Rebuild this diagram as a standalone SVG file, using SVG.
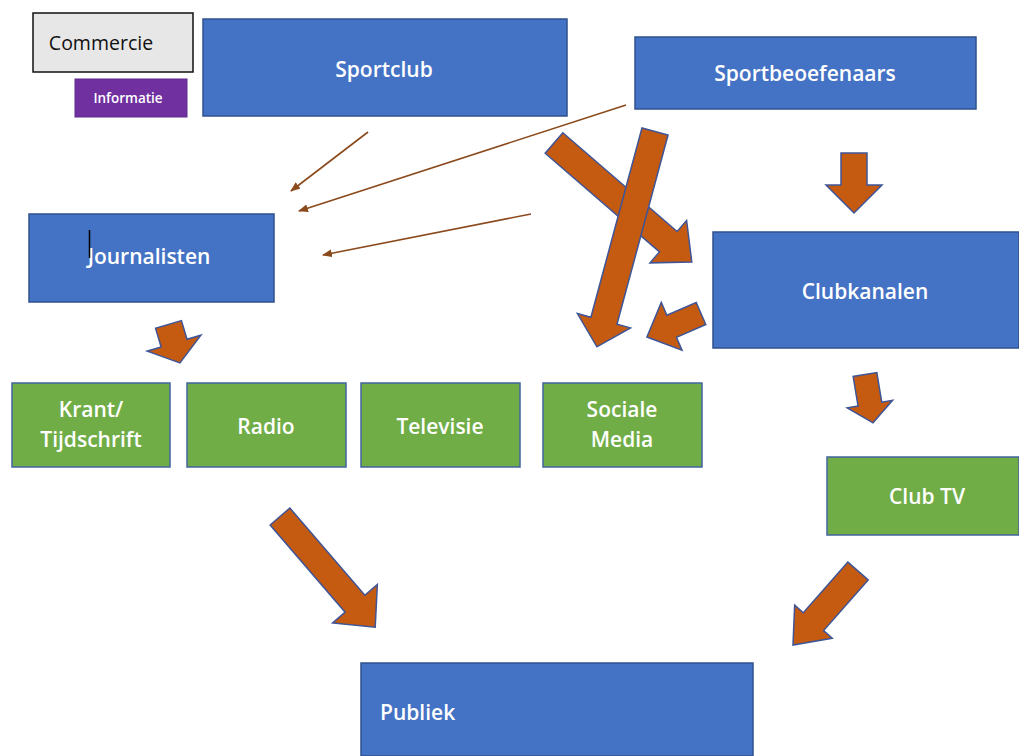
<svg xmlns="http://www.w3.org/2000/svg" width="1019" height="756" viewBox="0 0 1019 756">
<defs>
<style>
.box{fill:#4472c4;stroke:#2f528f;stroke-width:1.5}
.grn{fill:#70ad47;stroke:#41649e;stroke-width:1.5}
.t{font-family:"Open Sans","Liberation Sans",sans-serif;fill:#fff;font-size:21px;font-weight:600;text-anchor:middle}
.blk{fill:#c55a11;stroke:#3f5597;stroke-width:1.5}
.thin{stroke:#8b4a1c;stroke-width:1.6;fill:none;marker-end:url(#ah)}
</style>
<marker id="ah" markerWidth="10" markerHeight="8" refX="9" refY="4" orient="auto" markerUnits="userSpaceOnUse">
<path d="M0,0 L10,4 L0,8 Z" fill="#8b4a1c"/>
</marker>
</defs>
<rect width="1019" height="756" fill="#fff"/>
<g id="commercie">
<rect x="33" y="13" width="160" height="59" fill="#e7e7e7" stroke="#111" stroke-width="1.5"/>
<text x="101" y="50" style="font-family:'Open Sans','Liberation Sans',sans-serif;font-size:19.5px;fill:#111;text-anchor:middle">Commercie</text>
</g>
<g id="informatie">
<rect x="75" y="79" width="112" height="38" fill="#7030a0" stroke="#5a2a8a" stroke-width="1"/>
<text x="128" y="103" class="t" style="font-size:13.5px">Informatie</text>
</g>
<g id="sportclub">
<rect class="box" x="203" y="19" width="364" height="97"/>
<text class="t" x="384" y="77">Sportclub</text>
</g>
<g id="sportbeoefenaars">
<rect class="box" x="635" y="37" width="341" height="72"/>
<text class="t" x="805" y="81">Sportbeoefenaars</text>
</g>
<g id="journalisten">
<rect class="box" x="29" y="214" width="245" height="88"/>
<text class="t" x="149" y="264">Journalisten</text>
<line x1="89.5" y1="230" x2="89.5" y2="258" stroke="#000" stroke-width="1.5"/>
</g>
<g id="clubkanalen">
<rect class="box" x="713" y="232" width="306" height="116"/>
<text class="t" x="865" y="299">Clubkanalen</text>
</g>
<g id="krant">
<rect class="grn" x="12" y="383" width="158" height="84"/>
<text class="t" x="91" y="417">Krant/</text>
<text class="t" x="91" y="447">Tijdschrift</text>
</g>
<g id="radio">
<rect class="grn" x="187" y="383" width="159" height="84"/>
<text class="t" x="266" y="434">Radio</text>
</g>
<g id="televisie">
<rect class="grn" x="361" y="383" width="159" height="84"/>
<text class="t" x="440" y="434">Televisie</text>
</g>
<g id="sociale-media">
<rect class="grn" x="543" y="383" width="159" height="84"/>
<text class="t" x="622" y="417">Sociale</text>
<text class="t" x="622" y="447">Media</text>
</g>
<g id="clubtv">
<rect class="grn" x="827" y="457" width="192" height="78"/>
<text class="t" x="927" y="504">Club TV</text>
</g>
<g id="publiek">
<rect class="box" x="361" y="663" width="392" height="93"/>
<text class="t" x="380" y="720" style="text-anchor:start">Publiek</text>
</g>
<g id="connectors">
<line class="thin" x1="368" y1="132" x2="291" y2="191"/>
<line class="thin" x1="626" y1="105" x2="299" y2="211"/>
<line class="thin" x1="531" y1="214" x2="323" y2="255"/>
<path class="blk" transform="translate(554,143) rotate(40.8)" d="M0,-13.5 L151,-13.5 L151,-28 L182,0 L151,28 L151,13.5 L0,13.5 Z"/>
<path class="blk" transform="translate(655,131.5) rotate(105.1)" d="M0,-13.5 L196,-13.5 L196,-27.5 L223,0 L196,27.5 L196,13.5 L0,13.5 Z"/>
<path class="blk" transform="translate(701,313.5) rotate(156.5)" d="M0,-12 L32,-12 L32,-26 L59,0 L32,26 L32,12 L0,12 Z"/>
<path class="blk" transform="translate(854,153) rotate(90)" d="M0,-13 L32,-13 L32,-28 L60,0 L32,28 L32,13 L0,13 Z"/>
<path class="blk" transform="translate(168.5,324.5) rotate(73.4)" d="M0,-13.5 L19.5,-13.5 L19.5,-28 L40,0 L19.5,28 L19.5,13.5 L0,13.5 Z"/>
<path class="blk" transform="translate(865,374.5) rotate(80.6)" d="M0,-12 L30,-12 L30,-23 L49,0 L30,23 L30,12 L0,12 Z"/>
<path class="blk" transform="translate(858,571) rotate(131.3)" d="M0,-13.5 L67.5,-13.5 L67.5,-25 L98.5,0 L67.5,25 L67.5,13.5 L0,13.5 Z"/>
<path class="blk" transform="translate(280,516.5) rotate(49.3)" d="M0,-13 L115,-13 L115,-29.5 L146,0 L115,29.5 L115,13 L0,13 Z"/>
</g>
</svg>
